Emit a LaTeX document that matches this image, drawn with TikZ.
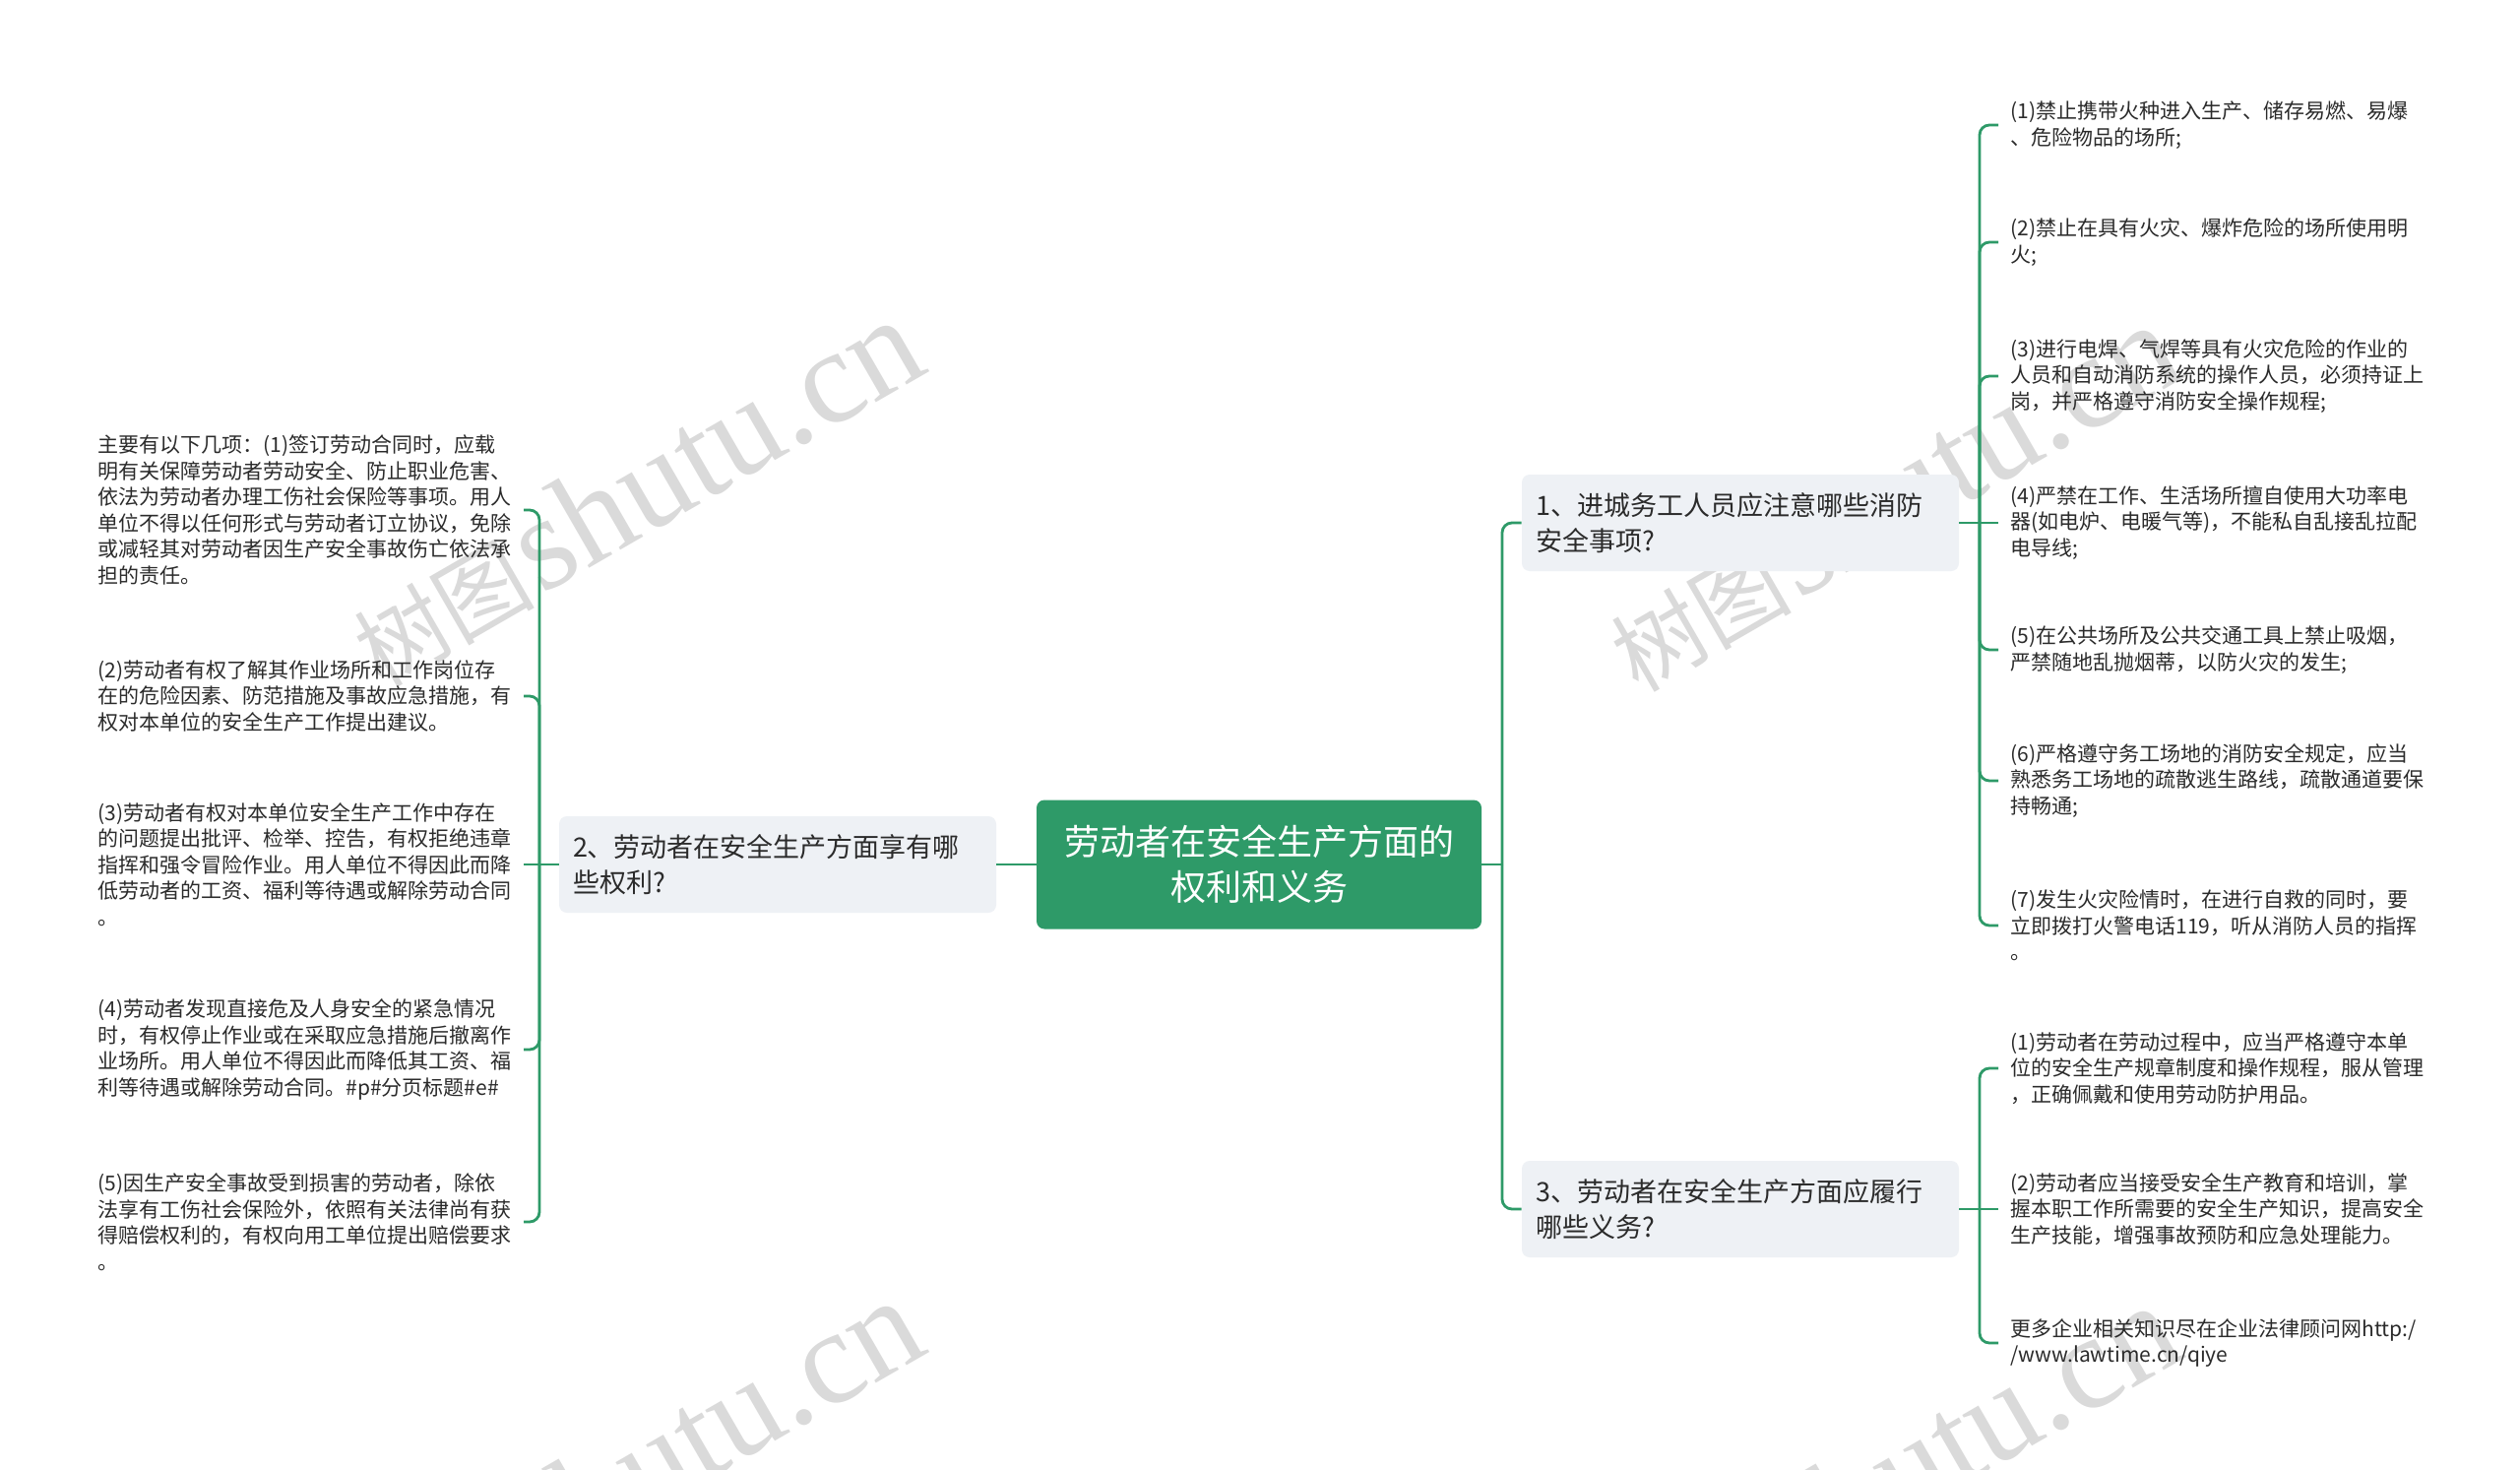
\documentclass[tikz,border=0pt]{standalone}
\usepackage{fontspec}
\setmainfont{Noto Sans CJK SC}
\newfontfamily\wmlatin{Liberation Serif}
\definecolor{mgreen}{HTML}{2E9A68}
\definecolor{bfill}{HTML}{EEF1F5}
\definecolor{ltext}{HTML}{2B2B2B}
\definecolor{wmgray}{HTML}{DADADA}
\begin{document}
\begin{tikzpicture}[x=0.5pt,y=-0.5pt,
  conn/.style={draw=mgreen, line width=1.4pt, rounded corners=5pt},
  leafL/.style={anchor=east, inner sep=0pt, text width=216pt, align=left, text=ltext, font=\fontsize{10.5pt}{13.3pt}\selectfont},
  leafR/.style={anchor=west, inner sep=0pt, text width=216pt, align=left, text=ltext, font=\fontsize{10.5pt}{13.3pt}\selectfont},
  branchbox/.style={fill=bfill, rounded corners=4pt, minimum width=222pt, minimum height=49pt, inner xsep=7pt, text width=208pt, align=left, text=ltext, font=\fontsize{13.5pt}{18pt}\selectfont},
  rootbox/.style={fill=mgreen, rounded corners=4pt, minimum width=226pt, minimum height=65.5pt, align=center, text=white, font=\fontsize{18pt}{23pt}\selectfont},
  wmark/.style={text=wmgray, rotate=30, inner sep=0pt}
]
\fill[white] (0,0) rectangle (2560,1493);
\useasboundingbox (0,0) rectangle (2560,1493);
% watermarks
\begin{scope}
\clip (0,0) rectangle (2560,1493);
\foreach \n/\px/\py in {w1/645/500, w2/1922/505, w3/645/1496, w4/1922/1501}{
  \node[wmark] (\n) at (\px,\py) {{\fontsize{46pt}{46pt}\selectfont 树图} {\wmlatin\fontsize{68pt}{68pt}\selectfont shutu.cn}};
}
\end{scope}
% root and branches
\node[rootbox] (root) at (1279,878) {劳动者在安全生产方面的\\权利和义务};
\node[branchbox] (b2) at (790,878) {2、劳动者在安全生产方面享有哪\\些权利?};
\node[branchbox] (b1) at (1768,531) {1、进城务工人员应注意哪些消防\\安全事项?};
\node[branchbox] (b3) at (1768,1228) {3、劳动者在安全生产方面应履行\\哪些义务?};
% junctions
\coordinate (jL) at (548,878);
\coordinate (jC) at (1526,878);
\coordinate (jR1) at (2011,531);
\coordinate (jR3) at (2011,1228);
% left leaves
\node[leafL] (l1) at (532,518) {主要有以下几项：(1)签订劳动合同时，应载\\明有关保障劳动者劳动安全、防止职业危害、\\依法为劳动者办理工伤社会保险等事项。用人\\单位不得以任何形式与劳动者订立协议，免除\\或减轻其对劳动者因生产安全事故伤亡依法承\\担的责任。};
\node[leafL] (l2) at (532,707) {(2)劳动者有权了解其作业场所和工作岗位存\\在的危险因素、防范措施及事故应急措施，有\\权对本单位的安全生产工作提出建议。};
\node[leafL] (l3) at (532,878) {(3)劳动者有权对本单位安全生产工作中存在\\的问题提出批评、检举、控告，有权拒绝违章\\指挥和强令冒险作业。用人单位不得因此而降\\低劳动者的工资、福利等待遇或解除劳动合同\\。};
\node[leafL] (l4) at (532,1066) {(4)劳动者发现直接危及人身安全的紧急情况\\时，有权停止作业或在采取应急措施后撤离作\\业场所。用人单位不得因此而降低其工资、福\\利等待遇或解除劳动合同。\#p\#分页标题\#e\#};
\node[leafL] (l5) at (532,1241) {(5)因生产安全事故受到损害的劳动者，除依\\法享有工伤社会保险外，依照有关法律尚有获\\得赔偿权利的，有权向用工单位提出赔偿要求\\。};
% right leaves (branch 1)
\node[leafR] (r1) at (2042,127) {(1)禁止携带火种进入生产、储存易燃、易爆\\、危险物品的场所;};
\node[leafR] (r2) at (2042,246) {(2)禁止在具有火灾、爆炸危险的场所使用明\\火;};
\node[leafR] (r3) at (2042,382) {(3)进行电焊、气焊等具有火灾危险的作业的\\人员和自动消防系统的操作人员，必须持证上\\岗，并严格遵守消防安全操作规程;};
\node[leafR] (r4) at (2042,531) {(4)严禁在工作、生活场所擅自使用大功率电\\器(如电炉、电暖气等)，不能私自乱接乱拉配\\电导线;};
\node[leafR] (r5) at (2042,660) {(5)在公共场所及公共交通工具上禁止吸烟，\\严禁随地乱抛烟蒂，以防火灾的发生;};
\node[leafR] (r6) at (2042,793) {(6)严格遵守务工场地的消防安全规定，应当\\熟悉务工场地的疏散逃生路线，疏散通道要保\\持畅通;};
\node[leafR] (r7) at (2042,940) {(7)发生火灾险情时，在进行自救的同时，要\\立即拨打火警电话119，听从消防人员的指挥\\。};
% right leaves (branch 3)
\node[leafR] (o1) at (2042,1085) {(1)劳动者在劳动过程中，应当严格遵守本单\\位的安全生产规章制度和操作规程，服从管理\\，正确佩戴和使用劳动防护用品。};
\node[leafR] (o2) at (2042,1228) {(2)劳动者应当接受安全生产教育和培训，掌\\握本职工作所需要的安全生产知识，提高安全\\生产技能，增强事故预防和应急处理能力。};
\node[leafR] (o3) at (2042,1364) {更多企业相关知识尽在企业法律顾问网http:/\\/www.lawtime.cn/qiye};
% connectors
\draw[conn] (root.west) -- (b2.east);
\draw[conn] (b2.west) -- (jL);
\foreach \l in {l1,l2,l4,l5}{ \draw[conn] (jL) |- (\l.east); }
\draw[conn] (jL) -- (l3.east);
\draw[conn] (root.east) -- (jC);
\draw[conn] (jC) |- (b1.west);
\draw[conn] (jC) |- (b3.west);
\draw[conn] (b1.east) -- (jR1);
\foreach \l in {r1,r2,r3,r5,r6,r7}{ \draw[conn] (jR1) |- ([xshift=-6pt]\l.west); }
\draw[conn] (jR1) -- ([xshift=-6pt]r4.west);
\draw[conn] (b3.east) -- (jR3);
\foreach \l in {o1,o3}{ \draw[conn] (jR3) |- ([xshift=-6pt]\l.west); }
\draw[conn] (jR3) -- ([xshift=-6pt]o2.west);
\end{tikzpicture}
\end{document}
